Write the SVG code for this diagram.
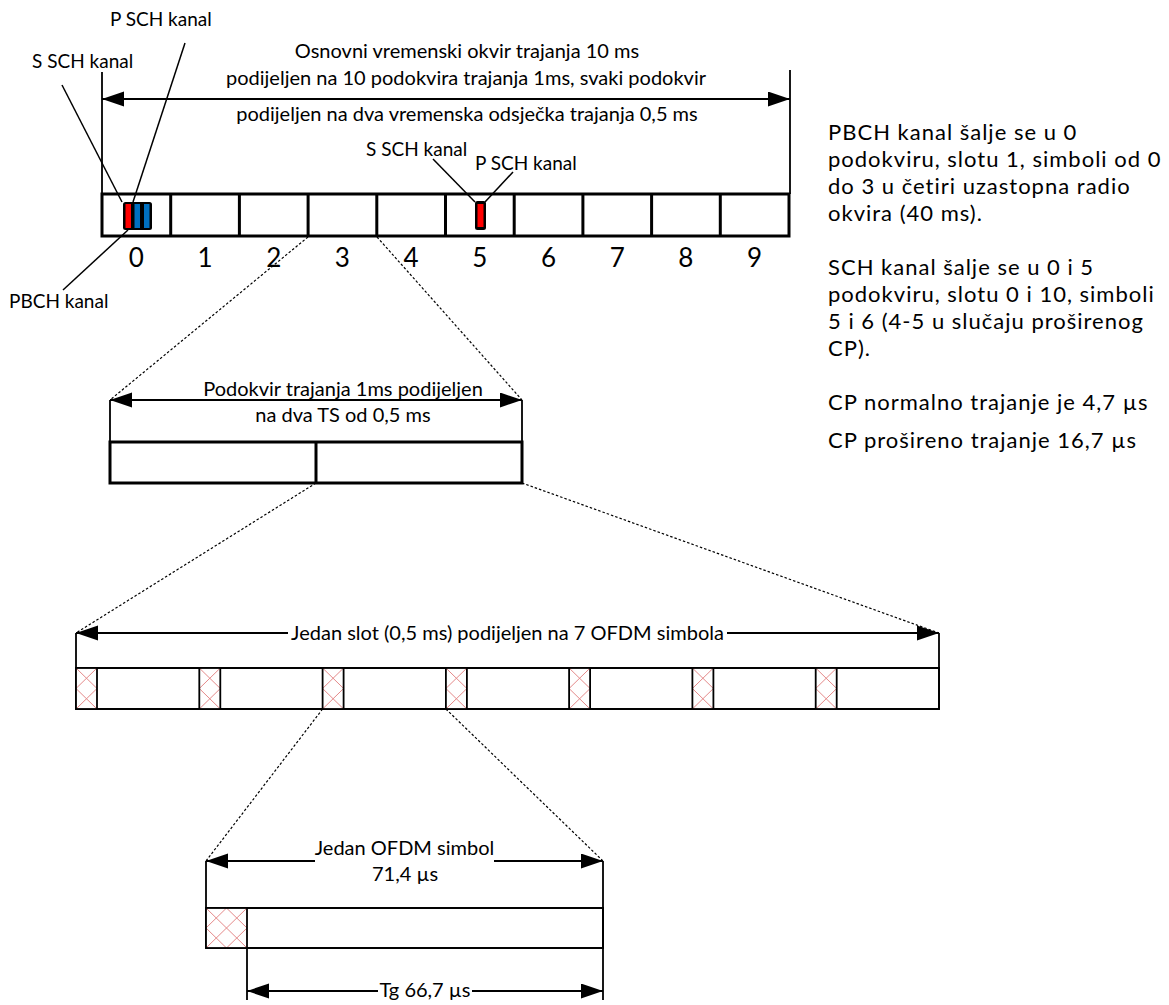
<svg xmlns="http://www.w3.org/2000/svg" width="1169" height="1005" viewBox="0 0 1169 1005">
<style>
text{font-family:Lato,"Liberation Sans",sans-serif;fill:#000}
.lbl{font-size:19px}
.dim{font-size:20px}
.note{font-size:22px;letter-spacing:1px}
.num{font-size:26px}
.thick{fill:#fff;stroke:#000;stroke-width:3}
.thin{fill:#fff;stroke:#000;stroke-width:1.8}
.ln{stroke:#000;stroke-width:1.8;fill:none}
.lead{stroke:#000;stroke-width:1.5;fill:none}
.dot{stroke:#000;stroke-width:1.2;stroke-dasharray:2.5,2;fill:none}
.hatch{stroke:#e58a8a;stroke-width:1;fill:none}
</style>
<defs>
<marker id="ah" markerUnits="userSpaceOnUse" markerWidth="24" markerHeight="16" refX="22" refY="7.5" orient="auto-start-reverse">
<path d="M0,0 L22,7.5 L0,15 Z" fill="#000"/>
</marker>
<g id="cp">
<rect x="0" y="0" width="21" height="41" fill="#fff"/>
<path class="hatch" d="M0,0 L21,20.5 M21,0 L0,20.5 M0,20.5 L21,41 M21,20.5 L0,41"/>
</g>
</defs>

<g id="frame">
<rect class="thick" x="102" y="194" width="687" height="42"/>
<path class="ln" style="stroke-width:3" d="M170.7,194V236 M239.4,194V236 M308.1,194V236 M376.8,194V236 M445.5,194V236 M514.2,194V236 M582.9,194V236 M651.6,194V236 M720.3,194V236"/>
<rect x="123" y="202" width="29" height="28" rx="2.5" fill="#000"/>
<rect x="125.5" y="204" width="5.5" height="24" fill="#ff0000"/>
<rect x="134.5" y="204" width="5.5" height="24" fill="#0070c0"/>
<rect x="144" y="204" width="5.5" height="24" fill="#0070c0"/>
<rect x="475" y="201" width="11" height="29" rx="2.5" fill="#000"/>
<rect x="477.5" y="204" width="6" height="23" fill="#ff0000"/>
<g class="num" text-anchor="middle">
<text x="136.3" y="267">0</text>
<text x="205" y="267">1</text>
<text x="273.7" y="267">2</text>
<text x="342.4" y="267">3</text>
<text x="411.1" y="267">4</text>
<text x="479.8" y="267">5</text>
<text x="548.5" y="267">6</text>
<text x="617.2" y="267">7</text>
<text x="685.9" y="267">8</text>
<text x="754.6" y="267">9</text>
</g>
</g>

<g id="labels" class="lbl">
<text x="110" y="26">P SCH kanal</text>
<text x="32" y="68">S SCH kanal</text>
<text x="9" y="308">PBCH kanal</text>
<text x="366" y="156">S SCH kanal</text>
<text x="475" y="170">P SCH kanal</text>
</g>

<g id="frame-dimension" class="dim" text-anchor="middle">
<text x="467" y="58">Osnovni vremenski okvir trajanja 10 ms</text>
<text x="466" y="85">podijeljen na 10 podokvira trajanja 1ms, svaki podokvir</text>
<text x="467" y="121">podijeljen na dva vremenska odsječka trajanja 0,5 ms</text>
</g>

<g id="notes" class="note">
<text x="828" y="140">PBCH kanal šalje se u 0</text>
<text x="828" y="167">podokviru, slotu 1, simboli od 0</text>
<text x="828" y="194">do 3 u četiri uzastopna radio</text>
<text x="828" y="221">okvira (40 ms).</text>
<text x="828" y="275">SCH kanal šalje se u 0 i 5</text>
<text x="828" y="302">podokviru, slotu 0 i 10, simboli</text>
<text x="828" y="329">5 i 6 (4-5 u slučaju proširenog</text>
<text x="828" y="356">CP).</text>
<text x="828" y="410">CP normalno trajanje je 4,7 µs</text>
<text x="828" y="448">CP prošireno trajanje 16,7 µs</text>
</g>

<g id="subframe">
<rect class="thick" x="110" y="442" width="412" height="41"/>
<path class="ln" style="stroke-width:3" d="M316,442V483"/>
<g class="dim" text-anchor="middle">
<text x="343" y="396">Podokvir trajanja 1ms podijeljen</text>
<text x="343" y="422">na dva TS od 0,5 ms</text>
</g>
</g>

<g id="slot">
<rect class="thin" x="76" y="668" width="863" height="41"/>
<use href="#cp" x="76" y="668"/>
<use href="#cp" x="199.3" y="668"/>
<use href="#cp" x="322.6" y="668"/>
<use href="#cp" x="445.9" y="668"/>
<use href="#cp" x="569.1" y="668"/>
<use href="#cp" x="692.4" y="668"/>
<use href="#cp" x="815.7" y="668"/>
<rect x="76" y="668" width="863" height="41" fill="none" stroke="#000" stroke-width="1.8"/>
<path class="ln" d="M97,668V709 M199.3,668V709 M220.3,668V709 M322.6,668V709 M343.6,668V709 M445.9,668V709 M466.9,668V709 M569.1,668V709 M590.1,668V709 M692.4,668V709 M713.4,668V709 M815.7,668V709 M836.7,668V709"/>
<text class="dim" x="507.5" y="640" text-anchor="middle">Jedan slot (0,5 ms) podijeljen na 7 OFDM simbola</text>
</g>

<g id="symbol">
<rect class="thin" x="206" y="908" width="397" height="40"/>
<rect x="206" y="908" width="41" height="40" fill="#fff"/>
<path class="hatch" d="M206,908 L247,948 M247,908 L206,948 M206,928 L226.5,908 L247,928 L226.5,948 Z"/>
<rect x="206" y="908" width="397" height="40" fill="none" stroke="#000" stroke-width="1.8"/>
<path class="ln" d="M247,908V948"/>
<g class="dim" text-anchor="middle">
<text x="404.5" y="855">Jedan OFDM simbol</text>
<text x="405" y="881">71,4 µs</text>
<text x="425" y="997">Tg 66,7 µs</text>
</g>
</g>

<g id="connectors">
<path class="lead" d="M62,85 L122,202"/>
<path class="lead" d="M185,43 L133,202"/>
<path class="lead" d="M63,290 L128,230"/>
<path class="lead" d="M433,159 L475,202"/>
<path class="lead" d="M513,172 L485,202"/>
<path class="ln" d="M102,72V194 M790,70V194"/>
<path class="ln" d="M102,99H790" marker-start="url(#ah)" marker-end="url(#ah)"/>
<path class="ln" d="M110,400V442 M522,400V442"/>
<path class="ln" d="M110,400H522" marker-start="url(#ah)" marker-end="url(#ah)"/>
<path class="ln" d="M76,633V668 M939,633V668"/>
<path class="ln" d="M288,633H76" marker-end="url(#ah)"/>
<path class="ln" d="M727,633H939" marker-end="url(#ah)"/>
<path class="ln" d="M206,861V908 M603,861V1000 M247,948V1000"/>
<path class="ln" d="M315,861H206" marker-end="url(#ah)"/>
<path class="ln" d="M494,861H603" marker-end="url(#ah)"/>
<path class="ln" d="M378,991H247" marker-end="url(#ah)"/>
<path class="ln" d="M472,991H603" marker-end="url(#ah)"/>
<path class="dot" d="M308,237 L110,400 M377,237 L522,400 M316,483 L76,633 M522,483 L939,633 M322.6,709 L206,861 M445.9,709 L603,861"/>
</g>
</svg>
